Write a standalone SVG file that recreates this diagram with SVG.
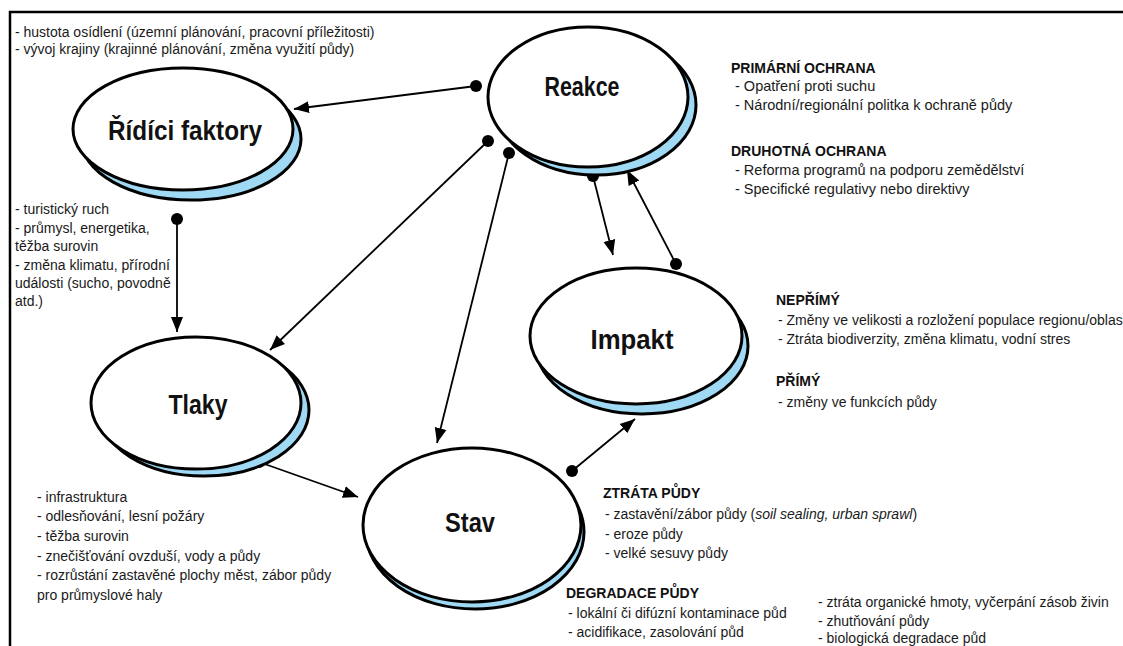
<svg xmlns="http://www.w3.org/2000/svg" width="1123" height="646" viewBox="0 0 1123 646">
<style>
.t{font-family:"Liberation Sans",Arial,sans-serif;font-size:14px;fill:#1a1a1a}
.t2{font-family:"Liberation Sans",Arial,sans-serif;font-size:14.5px;fill:#1a1a1a}
.h{font-family:"Liberation Sans",Arial,sans-serif;font-size:14px;font-weight:bold;fill:#111}
.lab{font-family:"Liberation Sans",Arial,sans-serif;font-size:27px;font-weight:bold;fill:#111;text-anchor:middle}
.sh{fill:#9fd9f3;stroke:#000;stroke-width:3}
.el{fill:#fff;stroke:#000;stroke-width:3}
.c{stroke:#000;stroke-width:1.8;fill:none;marker-start:url(#dot);marker-end:url(#arr)}
</style>
<defs>
<marker id="arr" markerUnits="userSpaceOnUse" markerWidth="16" markerHeight="14" viewBox="0 0 16 14" refX="15" refY="7" orient="auto"><path d="M0,1 L15,7 L0,13 Z" fill="#000"/></marker>
<marker id="dot" markerUnits="userSpaceOnUse" markerWidth="14" markerHeight="14" viewBox="0 0 14 14" refX="7" refY="7"><circle cx="7" cy="7" r="6" fill="#000"/></marker>
</defs>
<rect x="0" y="0" width="1123" height="646" fill="#fff"/>
<rect x="10" y="12" width="1125" height="650" fill="none" stroke="#000" stroke-width="2.5"/>

<g id="connectors">
<path class="c" d="M476,86 L294,109"/>
<path class="c" d="M488,141 L270,350"/>
<path class="c" d="M509,153 L437,443"/>
<path class="c" d="M177,219 L177,332"/>
<path class="c" d="M259,462 L358,497"/>
<path class="c" d="M572,471 L635,419"/>
<path class="c" d="M593,176 L613,255"/>
<path class="c" d="M676,264 L627,170"/>
</g>

<g id="ridici-faktory">
<ellipse class="sh" cx="191" cy="139" rx="110" ry="61"/>
<ellipse class="el" cx="183" cy="129" rx="110" ry="61"/>
<text class="lab" x="185" y="140" textLength="154" lengthAdjust="spacingAndGlyphs">Řídíci faktory</text>
</g>
<g id="reakce">
<ellipse class="sh" cx="596" cy="105" rx="100" ry="70"/>
<ellipse class="el" cx="588" cy="97" rx="100" ry="70"/>
<text class="lab" x="582" y="96" textLength="75" lengthAdjust="spacingAndGlyphs">Reakce</text>
</g>
<g id="impakt">
<ellipse class="sh" cx="642" cy="346" rx="106" ry="68"/>
<ellipse class="el" cx="636" cy="336" rx="106" ry="68"/>
<text class="lab" x="632" y="349" textLength="83" lengthAdjust="spacingAndGlyphs">Impakt</text>
</g>
<g id="tlaky">
<ellipse class="sh" cx="204" cy="410" rx="105" ry="66"/>
<ellipse class="el" cx="196" cy="403" rx="105" ry="66"/>
<text class="lab" x="198" y="414" textLength="59" lengthAdjust="spacingAndGlyphs">Tlaky</text>
</g>
<g id="stav">
<ellipse class="sh" cx="475" cy="532" rx="109" ry="77"/>
<ellipse class="el" cx="472" cy="525" rx="109" ry="77"/>
<text class="lab" x="470" y="532" textLength="50" lengthAdjust="spacingAndGlyphs">Stav</text>
</g>

<g id="texts">
<text class="t" x="15" y="37">- hustota osídlení (územní plánování, pracovní příležitosti)</text>
<text class="t" x="15" y="54">- vývoj krajiny (krajinné plánování, změna využití půdy)</text>

<text class="h" x="731" y="73">PRIMÁRNÍ OCHRANA</text>
<text class="t2" x="735" y="91">- Opatření proti suchu</text>
<text class="t2" x="735" y="110">- Národní/regionální politka k ochraně půdy</text>
<text class="h" x="731" y="156">DRUHOTNÁ OCHRANA</text>
<text class="t2" x="735" y="175">- Reforma programů na podporu zemědělství</text>
<text class="t2" x="735" y="194">- Specifické regulativy nebo direktivy</text>

<text class="t" x="15" y="214">- turistický ruch</text>
<text class="t" x="15" y="233">- průmysl, energetika,</text>
<text class="t" x="15" y="251">těžba surovin</text>
<text class="t" x="15" y="270">- změna klimatu, přírodní</text>
<text class="t" x="15" y="288">události (sucho, povodně</text>
<text class="t" x="15" y="306">atd.)</text>

<text class="h" x="776" y="305">NEPŘÍMÝ</text>
<text class="t" x="778" y="325">- Změny ve velikosti a rozložení populace regionu/oblas</text>
<text class="t" x="778" y="344">- Ztráta biodiverzity, změna klimatu, vodní stres</text>
<text class="h" x="776" y="386">PŘÍMÝ</text>
<text class="t" x="778" y="407">- změny ve funkcích půdy</text>

<text class="t" x="37" y="502">- infrastruktura</text>
<text class="t" x="37" y="521">- odlesňování, lesní požáry</text>
<text class="t" x="37" y="541">- těžba surovin</text>
<text class="t" x="37" y="561">- znečišťování ovzduší, vody a půdy</text>
<text class="t" x="37" y="580">- rozrůstání zastavěné plochy měst, zábor půdy</text>
<text class="t" x="37" y="600">pro průmyslové haly</text>

<text class="h" x="603" y="498">ZTRÁTA PŮDY</text>
<text class="t" x="605" y="519">- zastavění/zábor půdy (<tspan font-style="italic">soil sealing, urban sprawl</tspan>)</text>
<text class="t" x="605" y="539">- eroze půdy</text>
<text class="t" x="605" y="558">- velké sesuvy půdy</text>
<text class="h" x="566" y="598">DEGRADACE PŮDY</text>
<text class="t" x="568" y="618">- lokální či difúzní kontaminace půd</text>
<text class="t" x="568" y="637">- acidifikace, zasolování půd</text>
<text class="t" x="818" y="607">- ztráta organické hmoty, vyčerpání zásob živin</text>
<text class="t" x="818" y="626">- zhutňování půdy</text>
<text class="t" x="818" y="643">- biologická degradace půd</text>
</g>
</svg>
